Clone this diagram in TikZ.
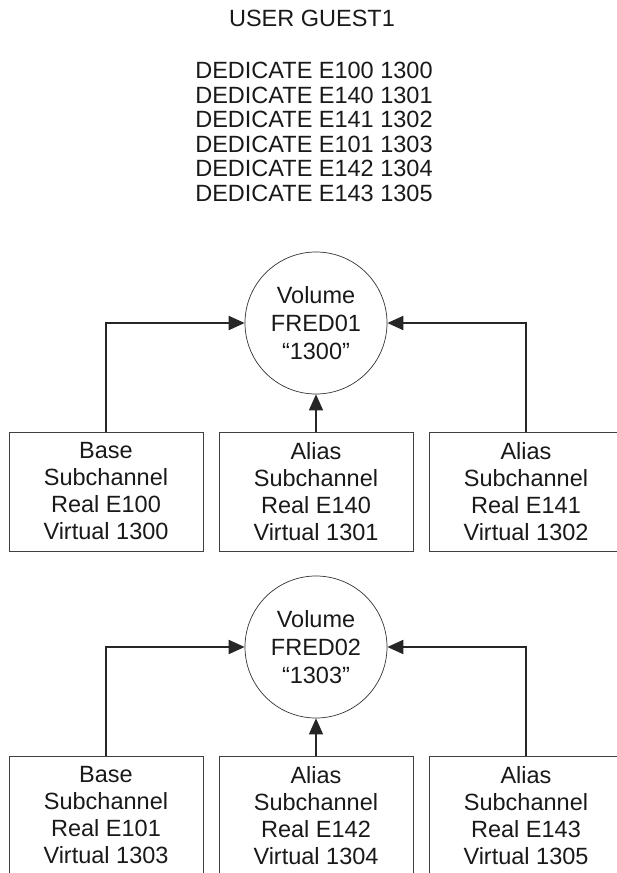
\documentclass[tikz,border=0pt]{standalone}
\usepackage{fontspec}
\setmainfont{Liberation Sans}
\usetikzlibrary{arrows.meta, positioning}

\begin{document}
\begin{tikzpicture}[
  x=1pt, y=-1pt,
  every node/.style={font=\fontsize{23.5pt}{24.5pt}\selectfont, text=black!90},
  chan/.style={rectangle, draw=black!75, line width=0.9pt, inner sep=0pt,
               minimum width=194pt, minimum height=119pt, align=center,
               font=\fontsize{23.5pt}{27pt}\selectfont},
  vol/.style={circle, draw=black!80, line width=0.7pt, inner sep=0pt,
              minimum size=142pt, align=center,
              font=\fontsize{23.5pt}{28pt}\selectfont},
  arrow/.style={-{Triangle[length=16pt, width=14pt]}, line width=2pt, black!85},
  uparrow/.style={arrow, line width=1.2pt}
]
  \useasboundingbox (0,0) rectangle (617,873);
  \clip (0,0) rectangle (617,873);

  \node (user) at (312,18) {USER GUEST1};
  \node[align=center] (ded) at (314,132)
    {DEDICATE E100 1300\\DEDICATE E140 1301\\DEDICATE E141 1302\\
     DEDICATE E101 1303\\DEDICATE E142 1304\\DEDICATE E143 1305};

  % first volume
  \node[vol] (fred1) at (316,323) {Volume\\FRED01\\``1300''};
  \node[chan] (b100) at (106,491.5) {Base\\Subchannel\\Real E100\\Virtual 1300};
  \node[chan] (a140) at (316,491.5) {Alias\\Subchannel\\Real E140\\Virtual 1301};
  \node[chan] (a141) at (526,491.5) {Alias\\Subchannel\\Real E141\\Virtual 1302};

  \draw[arrow]   (b100.north) |- (fred1.west);
  \draw[uparrow] (a140.north) -- (fred1.south);
  \draw[arrow]   (a141.north) |- (fred1.east);

  % second volume
  \node[vol] (fred2) at (316,647) {Volume\\FRED02\\``1303''};
  \node[chan] (b101) at (106,815.5) {Base\\Subchannel\\Real E101\\Virtual 1303};
  \node[chan] (a142) at (316,815.5) {Alias\\Subchannel\\Real E142\\Virtual 1304};
  \node[chan] (a143) at (526,815.5) {Alias\\Subchannel\\Real E143\\Virtual 1305};

  \draw[arrow]   (b101.north) |- (fred2.west);
  \draw[uparrow] (a142.north) -- (fred2.south);
  \draw[arrow]   (a143.north) |- (fred2.east);
\end{tikzpicture}
\end{document}
